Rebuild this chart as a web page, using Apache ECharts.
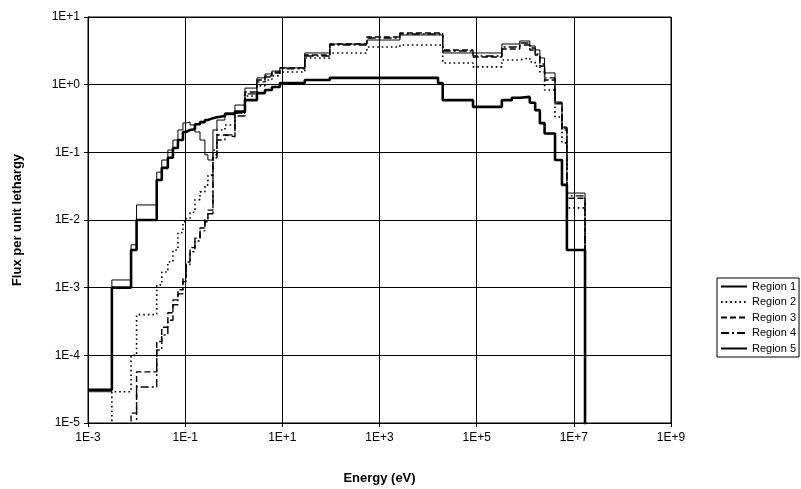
<!DOCTYPE html>
<html>
<head>
<meta charset="utf-8">
<script src="https://cdn.jsdelivr.net/npm/echarts@6/dist/echarts.min.js"></script>
<style>
html,body{margin:0;padding:0;background:#fff;}
#chart{width:801px;height:489px;}
</style>
</head>
<body>
<div id="chart"></div>
<script>
// Energy group boundaries (eV)
const bounds = [1e-3, 3.1e-3, 7.7e-3, 1.0e-2, 2.6e-2, 3.3e-2, 4.4e-2, 5.6e-2, 7.1e-2, 9.0e-2,
  0.105, 0.126, 0.159, 0.202, 0.255, 0.294, 0.373, 0.451, 0.659, 1.06,
  1.70, 3.0, 4.4, 6.1, 8.9, 29, 95, 550, 2630, 1.6e4,
  2.0e4, 8.4e4, 3.3e5, 5.3e5, 7.7e5, 1.24e6, 1.6e6, 2.0e6, 2.5e6, 4.1e6,
  5.7e6, 7.2e6, 1.7e7];

// Flux per unit lethargy for each group (values below 1E-5 are off the chart)
const region1 = [3.1e-5, 1.0e-3, 3.6e-3, 1.0e-2, 0.039, 0.059, 0.083, 0.116, 0.152, 0.20,
  0.214, 0.22, 0.26, 0.28, 0.30, 0.32, 0.33, 0.345, 0.37, 0.40,
  0.59, 0.75, 0.835, 0.925, 1.06, 1.17, 1.26, 1.26, 1.26, 1.06,
  0.59, 0.47, 0.59, 0.64, 0.66, 0.54, 0.42, 0.27, 0.19, 0.077,
  0.033, 0.0036];
const region2 = [1e-7, 2.9e-5, 1.0e-4, 4.0e-4, 1.1e-3, 1.7e-3, 2.4e-3, 3.6e-3, 6.5e-3, 9.4e-3,
  0.0105, 0.013, 0.020, 0.026, 0.033, 0.046, 0.108, 0.214, 0.254, 0.38,
  0.68, 0.96, 1.17, 1.35, 1.54, 2.48, 2.94, 3.60, 3.86, 3.86,
  2.09, 1.83, 2.32, 2.32, 2.48, 2.16, 1.89, 1.54, 0.835, 0.333,
  0.138, 0.0151];
const region3 = [1e-7, 1e-7, 1.4e-5, 5.7e-5, 1.6e-4, 2.6e-4, 4.25e-4, 6.6e-4, 9.3e-4, 1.4e-3,
  2.4e-3, 3.9e-3, 5.4e-3, 7.6e-3, 0.0105, 0.014, 0.092, 0.18, 0.17, 0.38,
  0.78, 1.17, 1.35, 1.54, 1.77, 2.75, 3.99, 5.07, 5.8, 5.8,
  3.26, 2.56, 3.37, 3.37, 3.86, 3.26, 2.75, 1.89, 1.17, 0.52,
  0.214, 0.021];
const region4 = [1e-7, 1e-7, 1e-7, 3.4e-5, 1.2e-4, 2.0e-4, 3.3e-4, 5.6e-4, 8.1e-4, 1.23e-3,
  2.2e-3, 3.4e-3, 4.9e-3, 6.9e-3, 9.4e-3, 0.0124, 0.083, 0.152, 0.181, 0.345,
  0.73, 1.10, 1.30, 1.49, 1.71, 2.65, 3.86, 4.90, 5.61, 5.61,
  3.15, 2.65, 3.60, 3.60, 4.13, 3.48, 2.84, 2.02, 1.26, 0.537,
  0.229, 0.0227];
const region5 = [2.9e-5, 1.3e-3, 4.3e-3, 0.0167, 0.051, 0.077, 0.108, 0.152, 0.214, 0.272,
  0.28, 0.254, 0.20, 0.152, 0.092, 0.077, 0.214, 0.30, 0.38, 0.50,
  0.89, 1.26, 1.44, 1.59, 1.77, 2.94, 3.99, 4.57, 5.42, 5.42,
  2.94, 2.94, 3.99, 3.99, 4.42, 3.73, 3.26, 2.48, 1.49, 0.555,
  0.237, 0.025];

const seriesNames = ['Region 1', 'Region 2', 'Region 3', 'Region 4', 'Region 5'];
const xTickLabels = ['1E-3', '1E-1', '1E+1', '1E+3', '1E+5', '1E+7', '1E+9'];
const yTickLabels = ['1E-5', '1E-4', '1E-3', '1E-2', '1E-1', '1E+0', '1E+1'];

function stepData(vals) {
  const d = vals.map((v, i) => [bounds[i], v]);
  d.push([bounds[bounds.length - 1], 1e-9]);
  return d;
}
function fmtPow(v) {
  const e = Math.round(Math.log10(v));
  return '1E' + (e >= 0 ? '+' : '-') + Math.abs(e);
}

const styles = [
  {width: 2.6, type: 'solid'},
  {width: 1.6, type: [1.6, 3]},
  {width: 1.4, type: [6, 3]},
  {width: 1.4, type: [8, 3, 2, 3]},
  {width: 1, type: 'solid'}
];
const allVals = [region1, region2, region3, region4, region5];

const chart = echarts.init(document.getElementById('chart'), null, {renderer: 'canvas'});
chart.setOption({
  animation: false,
  backgroundColor: '#fff',
  textStyle: {fontFamily: 'Liberation Sans, Arial, sans-serif', color: '#000'},
  grid: {left: 88, right: 130, top: 17, bottom: 66, show: true, borderColor: '#000', borderWidth: 1,
    containLabel: false, outerBoundsMode: 'none'},
  legend: {
    orient: 'vertical', left: 717, top: 278,
    backgroundColor: '#fff', borderColor: '#000', borderWidth: 1,
    padding: [3, 3, 3, 3], itemGap: 4.5, itemWidth: 26, itemHeight: 11,
    itemStyle: {opacity: 0},
    textStyle: {fontSize: 11, color: '#000', fontFamily: 'Liberation Sans, Arial, sans-serif'},
    data: seriesNames
  },
  xAxis: {
    type: 'log', logBase: 10, min: 1e-3, max: 1e9, interval: 2,
    name: 'Energy (eV)', nameLocation: 'middle', nameGap: 49,
    nameTextStyle: {fontSize: 13, fontWeight: 'bold', color: '#000'},
    axisLine: {lineStyle: {color: '#000', width: 1}},
    axisTick: {show: true, length: 4, lineStyle: {color: '#000'}},
    axisLabel: {fontSize: 12, color: '#000', margin: 9, formatter: v => {
      const s = fmtPow(v); return xTickLabels.indexOf(s) >= 0 ? s : ''; }},
    splitLine: {show: true, lineStyle: {color: '#000', width: 1}},
    minorTick: {show: false}
  },
  yAxis: {
    type: 'log', logBase: 10, min: 1e-5, max: 10, interval: 1,
    name: 'Flux per unit lethargy', nameLocation: 'middle', nameGap: 64,
    nameTextStyle: {fontSize: 13, fontWeight: 'bold', color: '#000'},
    axisLine: {show: true, lineStyle: {color: '#000', width: 1}},
    axisTick: {show: true, length: 4, lineStyle: {color: '#000'}},
    axisLabel: {fontSize: 12, color: '#000', margin: 8, formatter: v => {
      const s = fmtPow(v); return yTickLabels.indexOf(s) >= 0 ? s : ''; }},
    splitLine: {show: true, lineStyle: {color: '#000', width: 1}}
  },
  series: seriesNames.map((n, i) => ({
    name: n, type: 'line', step: 'end', symbol: 'none', showSymbol: false,
    clip: true, z: 10 - i,
    lineStyle: {color: '#000', width: styles[i].width, type: styles[i].type},
    itemStyle: {color: '#000'},
    data: stepData(allVals[i])
  }))
});
</script>
</body>
</html>
